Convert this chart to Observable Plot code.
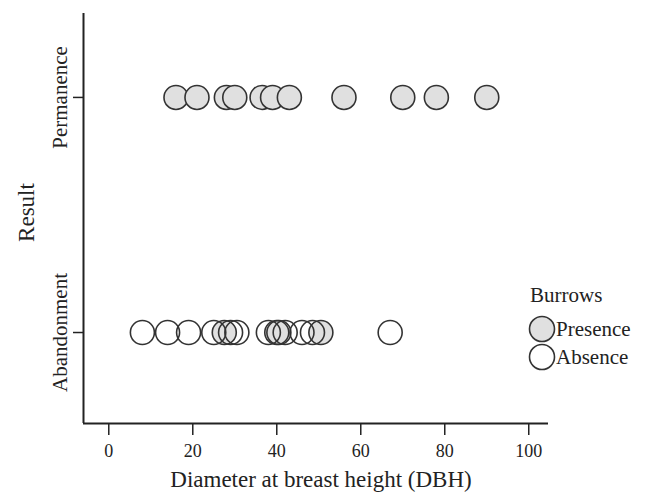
<!DOCTYPE html>
<html><head><meta charset="utf-8">
<script src="https://cdn.jsdelivr.net/npm/d3@7"></script>
<script src="https://cdn.jsdelivr.net/npm/@observablehq/plot@0.6"></script>
<style>
body{margin:0;background:#fff;}
#wrap{position:relative;width:646px;height:493px;font-family:"Liberation Serif","Times New Roman",serif;}
#legend{position:absolute;left:520px;top:280px;}
</style></head><body><div id="wrap"></div>
<script>
const resultLevels = ["Abandonment", "Permanence"];
const xTicks = [0, 20, 40, 60, 80, 100];
const burrowLevels = ["Presence", "Absence"];
const permanencePresence = [16, 21, 28, 30, 36.5, 39, 43, 56, 70, 78, 90];
const abandonmentPresence = [27.5, 40, 50.5];
const abandonmentAbsence = [8, 14, 19, 25, 29, 30.5, 38, 40.5, 42, 46, 48.5, 67];
const xTitle = "Diameter at breast height (DBH)";
const yTitle = "Result";
const legendTitle = "Burrows";

const rows = [
  ...permanencePresence.map(d => ({dbh: d, result: "Permanence", burrows: "Presence"})),
  ...abandonmentPresence.map(d => ({dbh: d, result: "Abandonment", burrows: "Presence"})),
  ...abandonmentAbsence.map(d => ({dbh: d, result: "Abandonment", burrows: "Absence"}))
];
const yPos = r => resultLevels.indexOf(r);
const yTickRows = resultLevels.map(l => ({pos: yPos(l), label: l}));
const xDomain = [-6.02, 104.7];
const yDomain = [-0.387, 1.357];
const ink = "#222";

const plot = Plot.plot({
  width: 646, height: 493,
  marginLeft: 83, marginRight: 98, marginTop: 13, marginBottom: 70,
  style: {fontFamily: '"Liberation Serif","Times New Roman",serif', background: "#fff", color: ink},
  x: {domain: xDomain},
  y: {domain: yDomain},
  marks: [
    Plot.ruleX([xDomain[0]], {stroke: ink, strokeWidth: 2}),
    Plot.ruleY([yDomain[0]], {stroke: ink, strokeWidth: 2}),
    Plot.axisX({ticks: xTicks, tickSize: 12, tickPadding: 9, fontSize: 18, label: null, strokeWidth: 1.5}),
    Plot.axisY({ticks: [0, 1], tickSize: 10, tickFormat: () => "", label: null, strokeWidth: 1.5}),
    Plot.text(yTickRows, {y: "pos", text: "label", frameAnchor: "left", textAnchor: "middle", lineAnchor: "middle", rotate: -90, dx: -23, fontSize: 21, fill: ink}),
    Plot.text([yTitle], {text: d => d, frameAnchor: "left", textAnchor: "middle", lineAnchor: "middle", rotate: -90, dx: -57, dy: -6, fontSize: 23, fill: ink}),
    Plot.text([xTitle], {text: d => d, frameAnchor: "bottom", textAnchor: "middle", lineAnchor: "middle", dx: 5, dy: 56, fontSize: 23, fill: ink}),
    Plot.dot(rows.filter(d => d.burrows === "Presence"), {x: "dbh", y: d => yPos(d.result), r: 12, fill: "#e0e0e0", stroke: "#333", strokeWidth: 1.6}),
    Plot.dot(rows.filter(d => d.burrows === "Absence"), {x: "dbh", y: d => yPos(d.result), r: 12, fill: "none", stroke: "#333", strokeWidth: 1.6})
  ]
});
const wrap = document.getElementById("wrap");
wrap.appendChild(plot);

// legend
const fills = {Presence: "#e0e0e0", Absence: "#fff"};
let svg = `<svg width="126" height="100" style="font-family:'Liberation Serif','Times New Roman',serif">`;
svg += `<text x="10" y="22" font-size="21" fill="${ink}">${legendTitle}</text>`;
burrowLevels.forEach((b, i) => {
  const cy = 49 + i * 28;
  svg += `<circle cx="22" cy="${cy}" r="12.5" fill="${fills[b]}" stroke="#333" stroke-width="1.6"/>`;
  svg += `<text x="36" y="${cy + 7}" font-size="21" fill="${ink}">${b}</text>`;
});
svg += `</svg>`;
const lg = document.createElement("div");
lg.id = "legend";
lg.innerHTML = svg;
wrap.appendChild(lg);
</script></body></html>
